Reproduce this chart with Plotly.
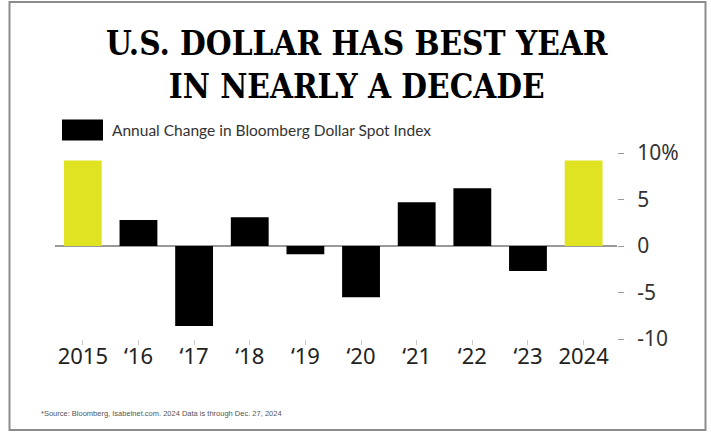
import plotly.graph_objects as go

years = ["2015", "\u201816", "\u201817", "\u201818", "\u201819", "\u201820", "\u201821", "\u201822", "\u201823", "2024"]
changes = [9.2, 2.8, -8.6, 3.1, -0.9, -5.5, 4.7, 6.2, -2.7, 9.2]
bar_colors = ["#dfe322", "#000000", "#000000", "#000000", "#000000", "#000000", "#000000", "#000000", "#000000", "#dfe322"]
y_ticks = [-10, -5, 0, 5, 10]
y_tick_text = ["-10", "-5", "0", "5", "10%"]

W, H = 711, 433
L, R, T, B = 55, 617, 153, 339


def px(x):
    return (x - L) / (R - L)


def py(y):
    return (B - y) / (B - T)


fig = go.Figure()
fig.add_trace(go.Bar(
    x=list(range(len(years))), y=changes, marker=dict(color=bar_colors, line=dict(width=0)),
    width=0.68, showlegend=False, hoverinfo="skip",
))

fig.update_layout(
    width=W, height=H,
    margin=dict(l=L, r=W - R, t=T, b=H - B, pad=0),
    paper_bgcolor="white", plot_bgcolor="white",
    xaxis=dict(
        range=[-0.5, 9.6], tickmode="array", tickvals=list(range(len(years))), ticktext=years,
        showgrid=False, zeroline=False, showline=False,
        ticks="outside", ticklen=5, tickcolor="#cccccc", tickwidth=1,
        tickfont=dict(family="Noto Sans", size=22, color="#222222"),
        ticklabelstandoff=-7,
    ),
    yaxis=dict(
        range=[-10, 10], side="right", tickmode="array", tickvals=y_ticks, ticktext=y_tick_text,
        showgrid=False, showline=False, zeroline=True, zerolinecolor="#999999", zerolinewidth=2,
        ticks="outside", ticklen=6, tickcolor="#999999", tickwidth=1,
        tickfont=dict(family="Noto Sans", size=21, color="#333333"),
        ticklabelstandoff=9,
    ),
    font=dict(family="Noto Sans"),
)

# border frame
fig.add_shape(type="rect", xref="paper", yref="paper",
              x0=px(9.5), x1=px(705.5), y0=py(430), y1=py(2),
              line=dict(color="#8c8c8c", width=2), fillcolor="rgba(0,0,0,0)", layer="below")

# title
fig.add_annotation(xref="paper", yref="paper", x=px(357), y=py(65), xanchor="center", yanchor="middle",
                   text="<b>U.S. DOLLAR HAS BEST YEAR<br>IN NEARLY A DECADE</b>", showarrow=False,
                   align="center",
                   font=dict(family="DejaVu Serif Condensed", size=33, color="#000000"))

# legend
fig.add_shape(type="rect", xref="paper", yref="paper",
              x0=px(62), x1=px(103), y0=py(140.5), y1=py(119.5),
              line=dict(width=0), fillcolor="#000000")
fig.add_annotation(xref="paper", yref="paper", x=px(110), y=py(130), xanchor="left", yanchor="middle",
                   text="Annual Change in Bloomberg Dollar Spot Index", showarrow=False,
                   font=dict(family="Lato", size=15.5, color="#333333"))

# source
fig.add_annotation(xref="paper", yref="paper", x=px(39), y=py(413), xanchor="left", yanchor="middle",
                   text="*Source: Bloomberg, Isabelnet.com. 2024 Data is through Dec. 27, 2024", showarrow=False,
                   font=dict(family="Liberation Sans", size=7.5, color="#555555"))

fig.write_html("out.html", config={"displayModeBar": False},
               post_script="document.body.style.margin='0';document.body.style.overflow='hidden';")
